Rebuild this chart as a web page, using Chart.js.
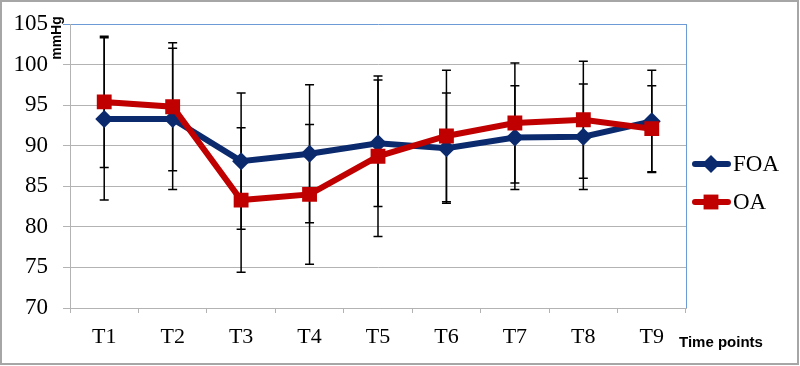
<!DOCTYPE html>
<html>
<head>
<meta charset="utf-8">
<style>
  html, body { margin: 0; padding: 0; background: #fff; }
  #wrap { width: 800px; height: 366px; }
  canvas { display: block; background: #fff; }
</style>
<script src="https://cdn.jsdelivr.net/npm/chart.js@4"></script>
</head>
<body>
<div id="wrap"><canvas id="myChart" width="800" height="366"></canvas></div>
<script>
// values
const timePoints = ['T1', 'T2', 'T3', 'T4', 'T5', 'T6', 'T7', 'T8', 'T9'];
const foaMean = [93.3, 93.3, 88.1, 89.0, 90.3, 89.7, 91.0, 91.1, 93.0];
const foaSD   = [10.0, 8.7, 8.4, 8.5, 7.8, 6.8, 6.4, 6.5, 6.3];
const oaMean  = [95.4, 94.8, 83.3, 84.0, 88.7, 91.2, 92.8, 93.2, 92.1];
const oaSD    = [8.1, 7.9, 8.9, 8.6, 9.9, 8.1, 7.4, 7.2, 5.3];
const yTicks  = [70, 75, 80, 85, 90, 95, 100, 105];

const navy = '#0b2a6e';
const red = '#c00000';
const gridGray = '#b3b3b3';
const frameBlue = '#6d9bd6';

const serif = "'Liberation Serif', 'Times New Roman', serif";
const sans = "'Liberation Sans', Arial, sans-serif";

// error bars, axis titles, legend and frame
const extrasPlugin = {
    id: 'extras',
    beforeDatasetsDraw(chart) {
        const ctx = chart.ctx;
        const x = chart.scales.x, y = chart.scales.y;
        ctx.save();
        ctx.strokeStyle = '#000';
        ctx.lineWidth = 1.5;
        [[foaMean, foaSD], [oaMean, oaSD]].forEach(([mean, sd]) => {
            mean.forEach((m, i) => {
                const px = x.getPixelForValue(i);
                const top = y.getPixelForValue(m + sd[i]);
                const bot = y.getPixelForValue(m - sd[i]);
                ctx.beginPath();
                ctx.moveTo(px, top); ctx.lineTo(px, bot);
                ctx.moveTo(px - 4.5, top); ctx.lineTo(px + 4.5, top);
                ctx.moveTo(px - 4.5, bot); ctx.lineTo(px + 4.5, bot);
                ctx.stroke();
            });
        });
        ctx.restore();
    },
    afterDraw(chart) {
        const ctx = chart.ctx;
        const area = chart.chartArea;
        ctx.save();
        // right edge of plot area
        ctx.strokeStyle = frameBlue;
        ctx.lineWidth = 1;
        ctx.beginPath();
        ctx.moveTo(Math.round(area.right) + 0.5, area.top);
        ctx.lineTo(Math.round(area.right) + 0.5, area.bottom);
        ctx.stroke();

        // axis titles
        ctx.fillStyle = '#000';
        ctx.font = 'bold 14px ' + sans;
        ctx.textAlign = 'center';
        ctx.textBaseline = 'middle';
        ctx.save();
        ctx.translate(57, 38);
        ctx.rotate(-Math.PI / 2);
        ctx.fillText('mmHg', 0, 0);
        ctx.restore();
        ctx.font = 'bold 15px ' + sans;
        ctx.textAlign = 'left';
        ctx.fillText('Time points', 679, 343);

        // legend
        const items = [
            { label: 'FOA', color: navy, style: 'rectRot', r: 9, y: 164 },
            { label: 'OA', color: red, style: 'rect', r: 10.5, y: 202 }
        ];
        items.forEach(it => {
            ctx.strokeStyle = it.color;
            ctx.lineWidth = 6;
            ctx.lineCap = 'round';
            ctx.beginPath();
            ctx.moveTo(695, it.y); ctx.lineTo(728, it.y);
            ctx.stroke();
            ctx.fillStyle = it.color;
            Chart.helpers.drawPoint(ctx, { pointStyle: it.style, radius: it.r, borderWidth: 0 }, 711, it.y);
            ctx.fillStyle = '#000';
            ctx.font = '23px ' + serif;
            ctx.textAlign = 'left';
            ctx.textBaseline = 'middle';
            ctx.fillText(it.label, 733, it.y + 1);
        });

        // outer frame
        ctx.strokeStyle = '#a6a6a6';
        ctx.lineWidth = 2;
        ctx.strokeRect(1, 1, 797, 363);
        ctx.restore();
    }
};

const ctx = document.getElementById('myChart').getContext('2d');
const myChart = new Chart(ctx, {
    type: 'line',
    data: {
        labels: timePoints,
        datasets: [
            {
                label: 'FOA',
                data: foaMean,
                borderColor: navy,
                backgroundColor: navy,
                borderWidth: 6,
                pointStyle: 'rectRot',
                pointRadius: 9,
                pointBorderWidth: 0,
                tension: 0,
                order: 2
            },
            {
                label: 'OA',
                data: oaMean,
                borderColor: red,
                backgroundColor: red,
                borderWidth: 6,
                pointStyle: 'rect',
                pointRadius: 10.5,
                pointBorderWidth: 0,
                tension: 0,
                order: 1
            }
        ]
    },
    options: {
        responsive: false,
        animation: false,
        layout: { padding: { top: 24, right: 114, left: 0, bottom: 0 } },
        plugins: {
            legend: { display: false },
            tooltip: { enabled: false }
        },
        scales: {
            x: {
                offset: true,
                afterFit: scale => {
                    scale.height = 58;
                    scale.paddingLeft = 0;
                    scale.paddingRight = 0;
                },
                grid: {
                    display: true,
                    offset: true,
                    drawOnChartArea: false,
                    tickLength: 5,
                    color: gridGray
                },
                border: { color: gridGray },
                ticks: {
                    padding: 11,
                    color: '#000',
                    font: { family: serif, size: 22 }
                }
            },
            y: {
                min: 70,
                max: 105,
                afterFit: scale => {
                    scale.width = 70;
                    scale.paddingTop = 0;
                    scale.paddingBottom = 0;
                },
                afterBuildTicks: scale => { scale.ticks = yTicks.map(v => ({ value: v })); },
                grid: {
                    tickLength: 7,
                    color: c => c.tick && c.tick.value === 105 ? frameBlue : gridGray
                },
                border: { color: gridGray },
                ticks: {
                    padding: 15,
                    color: '#000',
                    font: { family: serif, size: 23 }
                }
            }
        }
    },
    plugins: [extrasPlugin]
});
</script>
</body>
</html>
